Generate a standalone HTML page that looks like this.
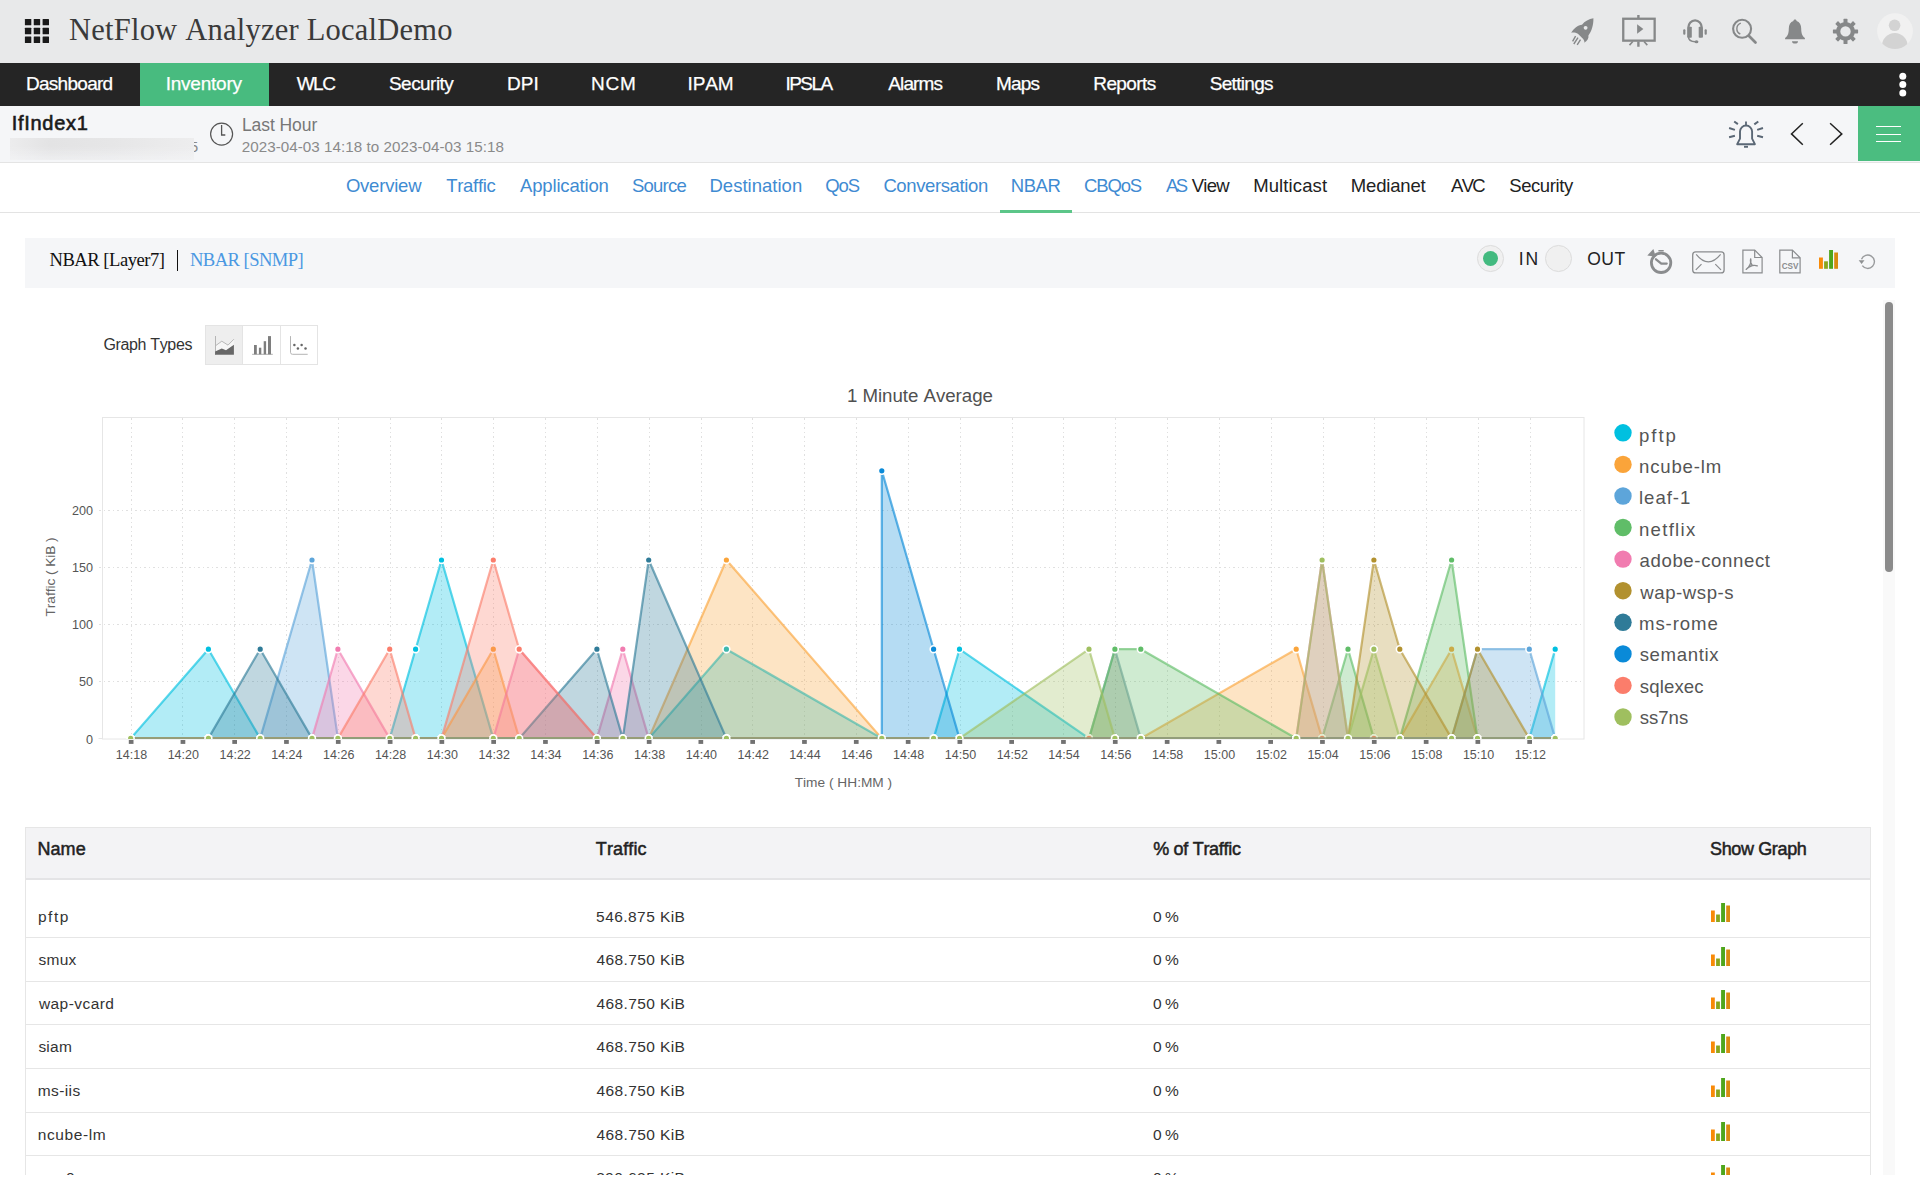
<!DOCTYPE html>
<html lang="en"><head><meta charset="utf-8"><title>NetFlow Analyzer</title>
<style>
html,body{margin:0;padding:0;background:#fff;width:1920px;height:1200px;overflow:hidden;font-family:"Liberation Sans",sans-serif}
body{position:relative;font-family:"Liberation Sans",sans-serif;font-kerning:none}
.abs{position:absolute;display:block}
.t{position:absolute;white-space:pre;font-kerning:none;display:block}
</style></head>
<body>
<div class="abs" style="left:0;top:0;width:1920px;height:63px;background:#e8e9ea"></div><svg class="abs" style="left:0;top:0" width="60" height="63" fill="#1a1a1a"><rect x="24.90" y="18.90" width="6.400" height="6.400" rx="0.500"/><rect x="33.75" y="18.90" width="6.400" height="6.400" rx="0.500"/><rect x="42.60" y="18.90" width="6.400" height="6.400" rx="0.500"/><rect x="24.90" y="27.75" width="6.400" height="6.400" rx="0.500"/><rect x="33.75" y="27.75" width="6.400" height="6.400" rx="0.500"/><rect x="42.60" y="27.75" width="6.400" height="6.400" rx="0.500"/><rect x="24.90" y="36.60" width="6.400" height="6.400" rx="0.500"/><rect x="33.75" y="36.60" width="6.400" height="6.400" rx="0.500"/><rect x="42.60" y="36.60" width="6.400" height="6.400" rx="0.500"/></svg><span class="t" style="left:69.02px;top:13px;font:400 30.50px/34px 'Liberation Serif',serif;font-kerning:none;letter-spacing:0.228px;color:#3a3a3a;">NetFlow Analyzer LocalDemo</span>
<div class="abs" style="left:0;top:63px;width:1920px;height:43px;background:#252525"></div><div class="abs" style="left:140px;top:63px;width:129px;height:43px;background:#48bb7f"></div><span class="t" style="left:26.00px;top:73px;font:400 19.00px/21px 'Liberation Sans',sans-serif;font-kerning:none;letter-spacing:-0.723px;color:#fff;-webkit-text-stroke:0.250px #fff;">Dashboard</span>
<span class="t" style="left:165.70px;top:73px;font:400 19.00px/21px 'Liberation Sans',sans-serif;font-kerning:none;letter-spacing:-0.232px;color:#fff;-webkit-text-stroke:0.250px #fff;">Inventory</span>
<span class="t" style="left:296.70px;top:73px;font:400 19.00px/21px 'Liberation Sans',sans-serif;font-kerning:none;letter-spacing:-1.500px;color:#fff;-webkit-text-stroke:0.250px #fff;">WLC</span>
<span class="t" style="left:389.00px;top:73px;font:400 19.00px/21px 'Liberation Sans',sans-serif;font-kerning:none;letter-spacing:-0.548px;color:#fff;-webkit-text-stroke:0.250px #fff;">Security</span>
<span class="t" style="left:506.90px;top:73px;font:400 19.00px/21px 'Liberation Sans',sans-serif;font-kerning:none;letter-spacing:0.053px;color:#fff;-webkit-text-stroke:0.250px #fff;">DPI</span>
<span class="t" style="left:591.10px;top:73px;font:400 19.00px/21px 'Liberation Sans',sans-serif;font-kerning:none;letter-spacing:0.679px;color:#fff;-webkit-text-stroke:0.250px #fff;">NCM</span>
<span class="t" style="left:687.50px;top:73px;font:400 19.00px/21px 'Liberation Sans',sans-serif;font-kerning:none;letter-spacing:-0.108px;color:#fff;-webkit-text-stroke:0.250px #fff;">IPAM</span>
<span class="t" style="left:785.40px;top:73px;font:400 19.00px/21px 'Liberation Sans',sans-serif;font-kerning:none;letter-spacing:-1.523px;color:#fff;-webkit-text-stroke:0.250px #fff;">IPSLA</span>
<span class="t" style="left:888.20px;top:73px;font:400 19.00px/21px 'Liberation Sans',sans-serif;font-kerning:none;letter-spacing:-0.843px;color:#fff;-webkit-text-stroke:0.250px #fff;">Alarms</span>
<span class="t" style="left:996.00px;top:73px;font:400 19.00px/21px 'Liberation Sans',sans-serif;font-kerning:none;letter-spacing:-0.820px;color:#fff;-webkit-text-stroke:0.250px #fff;">Maps</span>
<span class="t" style="left:1093.30px;top:73px;font:400 19.00px/21px 'Liberation Sans',sans-serif;font-kerning:none;letter-spacing:-0.605px;color:#fff;-webkit-text-stroke:0.250px #fff;">Reports</span>
<span class="t" style="left:1209.80px;top:73px;font:400 19.00px/21px 'Liberation Sans',sans-serif;font-kerning:none;letter-spacing:-0.707px;color:#fff;-webkit-text-stroke:0.250px #fff;">Settings</span>
<svg class="abs" style="left:1890px;top:63px" width="30" height="43" fill="#fff"><circle cx="12.8" cy="13.2" r="3.5"/><circle cx="12.8" cy="21.5" r="3.5"/><circle cx="12.8" cy="30" r="3.5"/></svg><div class="abs" style="left:0;top:106px;width:1920px;height:56px;background:#f5f6f8;border-bottom:1px solid #e4e4e4"></div><span class="t" style="left:11.70px;top:112px;font:400 20.00px/22px 'Liberation Sans',sans-serif;font-kerning:none;letter-spacing:0.723px;color:#1a1a1a;-webkit-text-stroke:0.600px #1a1a1a;">IfIndex1</span>
<span class="t" style="left:189.70px;top:138px;font:400 15.20px/17px 'Liberation Sans',sans-serif;font-kerning:none;letter-spacing:0.000px;color:#8a8a8a;">5</span>
<div class="abs" style="left:10.300px;top:137.600px;width:184px;height:22.400px;background:linear-gradient(180deg,rgba(245,246,248,0) 40%,rgba(245,246,248,.6) 100%),linear-gradient(90deg,#ececed 0%,#e3e3e4 22%,#e6e6e7 55%,#ededee 100%)"></div><svg class="abs" style="left:205px;top:117px" width="32" height="32" fill="none" stroke="#555" stroke-width="1.2"><circle cx="16.600" cy="17.100" r="11"/><path d="M16.600 7.900v10.100h3.700" stroke-width="1.300"/></svg><span class="t" style="left:241.90px;top:115px;font:400 17.50px/20px 'Liberation Sans',sans-serif;font-kerning:none;letter-spacing:-0.068px;color:#777;">Last Hour</span>
<span class="t" style="left:241.80px;top:138px;font:400 15.20px/17px 'Liberation Sans',sans-serif;font-kerning:none;letter-spacing:0.034px;color:#8a8a8a;">2023-04-03 14:18 to 2023-04-03 15:18</span>
<div class="abs" style="left:1858px;top:106px;width:62px;height:55px;background:#4bbd80"></div><svg class="abs" style="left:1858px;top:106px" width="62" height="55" stroke="#fff" stroke-width="1" shape-rendering="crispEdges"><path d="M18 20.500h25M18 28.500h25M18 35.500h25"/></svg><svg class="abs" style="left:1780px;top:110px" width="75" height="48" fill="none" stroke="#222" stroke-width="1.5"><path d="M22.8 13.3L11.5 23.9 22.8 34.7"/><path d="M50.1 13.3L61.8 23.9 50.1 34.7"/></svg><svg class="abs" style="left:1725px;top:116px" width="44" height="36" fill="none" stroke="#5a6775" stroke-width="1.9"><path d="M12.2 28.2L15 22.600V15.600a6.050 6.050 0 0 1 12.100 0V22.600L29.900 28.200Z" stroke-linejoin="round"/><path d="M21 5.500v3.600" stroke-width="1.800"/><path d="M19 30.800h4" stroke-width="1.900"/><path stroke-width="2" d="M9.200 5.500l3.700 2.600M4.100 12l5.800 1.900M4.100 21.200l5.800-1.500M33.300 5.500l-4 2.900M38 12l-5.800 1.900M38 21.200l-5.800-1.500"/></svg>
<svg class="abs" style="left:1560px;top:0" width="360" height="63" viewBox="1560 0 360 63"><path fill="#868889" fill-rule="evenodd" d="M1593.4 18.3C1589 18.9 1584.6 21.4 1582 24.7C1578 25.2 1573.6 28.3 1571.2 32.7C1573.6 32.2 1576 32.7 1577.9 33.8L1583.2 39.1C1584.3 41 1584.7 42.1 1584.2 42.8C1587.2 41 1589 38 1588.4 35.4C1591.6 31.4 1593.6 25 1593.400 18.300ZM1585.6 25.9a1.9 1.9 0 1 0 .01 0Z"/><path stroke="#868889" stroke-width="1.4" fill="none" d="M1575.6 36.2l-3 5.2M1578 37.6l-4.200 6.400M1580.500 39.600l-3.300 5.200"/><rect x="1623.25" y="18.75" width="31.4" height="21.9" fill="none" stroke="#868889" stroke-width="2.3"/><path stroke="#868889" stroke-width="2.4" fill="none" d="M1638.4 15.1v3M1638.4 41.500v5.300"/><path stroke="#868889" stroke-width="1.6" fill="none" d="M1632.800 41.500l-3.300 3.600M1644 41.500l3.300 3.600"/><path fill="#868889" d="M1637.100 24.200v9.600l6.300-4.800z"/><path fill="none" stroke="#868889" stroke-width="2.3" d="M1688.3 37.500v-9.800a6.750 7.300 0 0 1 13.500 0v9.800"/><rect x="1688.700" y="26.700" width="3.100" height="11" rx="0.800" fill="#868889"/><rect x="1698.700" y="26.700" width="3.100" height="11" rx="0.800" fill="#868889"/><rect x="1683.200" y="29.200" width="2.200" height="5.600" rx="1" fill="#868889"/><rect x="1704.600" y="29.200" width="2.200" height="5.600" rx="1" fill="#868889"/><path fill="none" stroke="#868889" stroke-width="1.5" d="M1688.400 36.500c0 3.500 2.500 5.200 7 5.200"/><ellipse cx="1696.500" cy="41.700" rx="1.900" ry="1.500" fill="#868889"/><circle cx="1742.1" cy="28.8" r="9" fill="none" stroke="#868889" stroke-width="2.1"/><path stroke="#868889" stroke-width="2.700" stroke-linecap="round" d="M1748.800 35.800l6.700 6.700"/><path fill="none" stroke="#868889" stroke-width="1.400" d="M1740.800 23.200a5.800 5.800 0 0 0 -.5 10.800"/><path fill="#868889" d="M1795 19.400c-1 0-1.600.7-1.600 1.600c-3 1-4.600 4-4.600 7.500c0 5-1.200 7.500-3.700 9.500v1.300h19.800v-1.300c-2.500-2-3.700-4.500-3.700-9.500c0-3.500-1.600-6.500-4.600-7.500c0-.9-.6-1.600-1.600-1.600z"/><path fill="#868889" d="M1792 41.200h6a3 2.300 0 0 1-6 0z"/><g fill="#868889"><rect x="1843.50" y="18.80" width="4" height="5" rx="0.6" transform="rotate(0 1845.50 31.40)"/><rect x="1843.50" y="18.80" width="4" height="5" rx="0.6" transform="rotate(45 1845.50 31.40)"/><rect x="1843.50" y="18.80" width="4" height="5" rx="0.6" transform="rotate(90 1845.50 31.40)"/><rect x="1843.50" y="18.80" width="4" height="5" rx="0.6" transform="rotate(135 1845.50 31.40)"/><rect x="1843.50" y="18.80" width="4" height="5" rx="0.6" transform="rotate(180 1845.50 31.40)"/><rect x="1843.50" y="18.80" width="4" height="5" rx="0.6" transform="rotate(225 1845.50 31.40)"/><rect x="1843.50" y="18.80" width="4" height="5" rx="0.6" transform="rotate(270 1845.50 31.40)"/><rect x="1843.50" y="18.80" width="4" height="5" rx="0.6" transform="rotate(315 1845.50 31.40)"/></g><circle cx="1845.5" cy="31.4" r="7.300" fill="none" stroke="#868889" stroke-width="4.200"/><defs><clipPath id="av"><circle cx="1895" cy="31.100" r="17.900"/></clipPath></defs><circle cx="1895" cy="31.100" r="17.900" fill="#f1f1f1"/><g clip-path="url(#av)" fill="#d3d3d3"><circle cx="1894.600" cy="25.300" r="5.800"/><ellipse cx="1894.800" cy="46" rx="12.800" ry="13"/></g></svg>
<div class="abs" style="left:0;top:212px;width:1920px;height:1px;background:#e3e3e3"></div><span class="t" style="left:345.90px;top:175px;font:400 18.50px/21px 'Liberation Sans',sans-serif;font-kerning:none;letter-spacing:-0.205px;color:#3f8bd2;">Overview</span>
<span class="t" style="left:446.30px;top:175px;font:400 18.50px/21px 'Liberation Sans',sans-serif;font-kerning:none;letter-spacing:-0.323px;color:#3f8bd2;">Traffic</span>
<span class="t" style="left:520.00px;top:175px;font:400 18.50px/21px 'Liberation Sans',sans-serif;font-kerning:none;letter-spacing:-0.161px;color:#3f8bd2;">Application</span>
<span class="t" style="left:631.90px;top:175px;font:400 18.50px/21px 'Liberation Sans',sans-serif;font-kerning:none;letter-spacing:-0.746px;color:#3f8bd2;">Source</span>
<span class="t" style="left:709.50px;top:175px;font:400 18.50px/21px 'Liberation Sans',sans-serif;font-kerning:none;letter-spacing:0.013px;color:#3f8bd2;">Destination</span>
<span class="t" style="left:825.20px;top:175px;font:400 18.50px/21px 'Liberation Sans',sans-serif;font-kerning:none;letter-spacing:-1.039px;color:#3f8bd2;">QoS</span>
<span class="t" style="left:883.40px;top:175px;font:400 18.50px/21px 'Liberation Sans',sans-serif;font-kerning:none;letter-spacing:-0.383px;color:#3f8bd2;">Conversation</span>
<span class="t" style="left:1010.80px;top:175px;font:400 18.50px/21px 'Liberation Sans',sans-serif;font-kerning:none;letter-spacing:-0.480px;color:#3f8bd2;">NBAR</span>
<span class="t" style="left:1084.10px;top:175px;font:400 18.50px/21px 'Liberation Sans',sans-serif;font-kerning:none;letter-spacing:-1.170px;color:#3f8bd2;">CBQoS</span>
<span class="t" style="left:1166.00px;top:175px;font:400 18.50px/21px 'Liberation Sans',sans-serif;font-kerning:none;letter-spacing:-2.539px;color:#3f8bd2;">AS</span>
<span class="t" style="left:1191.70px;top:175px;font:400 18.50px/21px 'Liberation Sans',sans-serif;font-kerning:none;letter-spacing:-0.746px;color:#222;">View</span>
<span class="t" style="left:1253.20px;top:175px;font:400 18.50px/21px 'Liberation Sans',sans-serif;font-kerning:none;letter-spacing:0.106px;color:#222;">Multicast</span>
<span class="t" style="left:1350.80px;top:175px;font:400 18.50px/21px 'Liberation Sans',sans-serif;font-kerning:none;letter-spacing:-0.166px;color:#222;">Medianet</span>
<span class="t" style="left:1451.00px;top:175px;font:400 18.50px/21px 'Liberation Sans',sans-serif;font-kerning:none;letter-spacing:-1.689px;color:#222;">AVC</span>
<span class="t" style="left:1509.20px;top:175px;font:400 18.50px/21px 'Liberation Sans',sans-serif;font-kerning:none;letter-spacing:-0.397px;color:#222;">Security</span>
<div class="abs" style="left:1000px;top:210px;width:72px;height:3px;background:#5cc689"></div><div class="abs" style="left:25px;top:238px;width:1870px;height:49.500px;background:#f5f6f8"></div><span class="t" style="left:49.50px;top:249px;font:400 18.60px/21px 'Liberation Serif',serif;font-kerning:none;letter-spacing:-0.491px;color:#111;">NBAR [Layer7]</span>
<div class="abs" style="left:176.600px;top:250px;width:1.500px;height:21px;background:#111"></div><span class="t" style="left:190.00px;top:249px;font:400 18.60px/21px 'Liberation Serif',serif;font-kerning:none;letter-spacing:-0.558px;color:#4a98e2;">NBAR [SNMP]</span>
<div class="abs" style="left:1477.100px;top:245.100px;width:24.800px;height:24.800px;border-radius:50%;background:#f0f0f0;border:1px solid #dcdcdc;box-sizing:content-box"></div><div class="abs" style="left:1483px;top:251px;width:15px;height:15px;border-radius:50%;background:#43ba7f"></div><span class="t" style="left:1518.70px;top:249px;font:400 17.50px/20px 'Liberation Sans',sans-serif;font-kerning:none;letter-spacing:2.038px;color:#222;">IN</span>
<div class="abs" style="left:1545.100px;top:245px;width:24.800px;height:24.800px;border-radius:50%;background:#f0f0f0;border:1px solid #dcdcdc;box-sizing:content-box"></div><span class="t" style="left:1587.30px;top:249px;font:400 17.50px/20px 'Liberation Sans',sans-serif;font-kerning:none;letter-spacing:0.425px;color:#222;">OUT</span>
<svg class="abs" style="left:1640px;top:238px" width="250" height="50" viewBox="1640 238 250 50" fill="none"><circle cx="1661.1" cy="262.8" r="9.700" stroke="#8a8c8e" stroke-width="2.800"/><path d="M1658.400 250h5.300v1.600h-5.300zM1660 251v2.500h2.200v-2.500z" fill="#8a8c8e"/><path d="M1647.300 255.400L1653.400 248.900L1655.800 256.800Z" fill="#8a8c8e"/><path d="M1656 259.300l5.300 4.300h5.400" stroke="#8a8c8e" stroke-width="2.300" stroke-linecap="round" stroke-linejoin="round"/><rect x="1692.700" y="251.900" width="31.400" height="21" rx="3" stroke="#8a8c8e" stroke-width="1.300"/><path d="M1696.200 254.400Q1708.300 269.500 1720.600 254.400M1701.500 264.100l-5.700 5.800M1715.300 264.100l5.700 5.800" stroke="#8a8c8e" stroke-width="1.200"/><path d="M1742.900 250.100h11.800l7.400 7.400v15.400h-19.200z" stroke="#8a8c8e" stroke-width="1.200"/><path d="M1754.700 250.100v7.400h7.400" stroke="#8a8c8e" stroke-width="1.200"/><path d="M1750.700 258.800c-.8 2.800 .2 5 1.600 6.700c1.800-.3 3.600-.3 5 .4M1752.300 265.500c-2.200 .6-4.500 1.800-6.100 3.900M1750.700 258.800c.9 2.800-.5 7.400-4.500 10.600" stroke="#8a8c8e" stroke-width="1.300" stroke-linecap="round"/><path d="M1779.800 250.100h12.600l7.700 7.700v15.100h-20.300z" stroke="#8a8c8e" stroke-width="1.200"/><path d="M1792.400 250.100v7.700h7.700" stroke="#8a8c8e" stroke-width="1.200"/><text x="1790.100" y="269" font-family="'Liberation Sans',sans-serif" font-weight="700" font-size="8.300" text-anchor="middle" fill="#8a8c8e" textLength="16.800" lengthAdjust="spacingAndGlyphs">CSV</text><defs><linearGradient id="bg1" x1="0" x2="1" y1="0" y2="0"><stop offset="0" stop-color="#ff8a00"/><stop offset=".35" stop-color="#9aa81a"/><stop offset=".7" stop-color="#4aa61c"/><stop offset="1" stop-color="#e8890c"/></linearGradient></defs><rect x="1819" y="257.500" width="3.900" height="11.300" fill="#f88a08"/><rect x="1824.100" y="261.300" width="3.800" height="7.500" fill="#8aa51c"/><rect x="1829.100" y="250" width="3.900" height="18.800" fill="#4fa61c"/><rect x="1834.200" y="252.500" width="3.800" height="16.300" fill="#d98b10"/><path d="M1862.300 265.700a6.700 6.700 0 1 0 -.8-6.500" stroke="#999b9d" stroke-width="1.400"/><path d="M1858.700 260.300h5.800l-2.900 3.700z" fill="#8e9092"/></svg><span class="t" style="left:103.40px;top:336px;font:400 16.00px/17px 'Liberation Sans',sans-serif;font-kerning:none;letter-spacing:-0.338px;color:#333;">Graph Types</span>
<div class="abs" style="left:205px;top:325px;width:111px;height:38px;border:1px solid #e4e4e4;background:#fff"></div><div class="abs" style="left:206px;top:326px;width:36.500px;height:38px;background:#eeeeee"></div><div class="abs" style="left:242px;top:326px;width:1px;height:38px;background:#e4e4e4"></div><div class="abs" style="left:280px;top:326px;width:1px;height:38px;background:#e4e4e4"></div><svg class="abs" style="left:205px;top:325px" width="114" height="40" viewBox="205 325 114 40" fill="none"><path d="M215.500 336v18.800" stroke="#b5b5b5" stroke-width="1"/><path d="M216 354.800v-9.400l5.800-4.200 6.200 3.900 5.900-5.900v15.600z" fill="#f6f6f6"/><path d="M216 345.400l5.800-4.200 6.200 3.900 5.900-5.900" stroke="#b8b8b8" stroke-width="1"/><path d="M215.100 354.800v-3.200l6.700-3 4.200 1.700 7.900-5.600v10.100z" fill="#676767"/><path d="M252.100 354.300h20.700" stroke="#b0b0b0" stroke-width="1"/><rect x="254.0" y="345.0" width="2.8" height="9.3" fill="#7e7e7e"/><rect x="258.9" y="347.7" width="2.4" height="6.6" fill="#7e7e7e"/><rect x="263.7" y="341.2" width="2.4" height="13.1" fill="#7e7e7e"/><rect x="268.0" y="336.1" width="3.0" height="18.2" fill="#7e7e7e"/><path d="M290.500 336.100v16.200q0 2 2 2h15.200" stroke="#b5b5b5" stroke-width="1"/><circle cx="294.4" cy="344.9" r="1.250" fill="#666"/><circle cx="297.9" cy="348.6" r="1.250" fill="#666"/><circle cx="301.6" cy="344.9" r="1.250" fill="#666"/><circle cx="305.5" cy="348.6" r="1.250" fill="#666"/></svg>
<svg class="abs" style="left:0;top:370px" width="1900" height="440" viewBox="0 370 1900 440"><rect x="102.500" y="417.500" width="1481.500" height="321.500" fill="#fff" stroke="#e6e6e6" stroke-width="1"/><path d="M131.5 418V738.500M182.5 418V738.500M234.5 418V738.500M286.5 418V738.500M338.5 418V738.500M390.5 418V738.500M441.5 418V738.500M493.5 418V738.500M545.5 418V738.500M597.5 418V738.500M649.5 418V738.500M701.5 418V738.500M752.5 418V738.500M804.5 418V738.500M856.5 418V738.500M908.5 418V738.500M960.5 418V738.500M1012.5 418V738.500M1063.5 418V738.500M1115.5 418V738.500M1167.5 418V738.500M1219.5 418V738.500M1271.5 418V738.500M1323.5 418V738.500M1374.5 418V738.500M1426.5 418V738.500M1478.5 418V738.500M1530.5 418V738.500M98.500 681.5H1584M98.500 624.5H1584M98.500 567.5H1584M98.500 510.5H1584" stroke="#e0e0e0" stroke-width="1" stroke-dasharray="2 3 1 3" fill="none" shape-rendering="crispEdges"/><path d="M98.500 738.500H103" stroke="#e6e6e6" stroke-width="1"/><defs><clipPath id="pc"><rect x="102" y="410" width="1483" height="329"/></clipPath></defs><g clip-path="url(#pc)"><path d="M130.7 738.4 L130.7 738.4 L208.4 649.2 L260.2 738.4 L312.0 738.4 L337.9 738.4 L389.7 738.4 L415.6 649.2 L441.5 560.0 L493.3 738.4 L519.2 738.4 L596.9 738.4 L622.8 738.4 L648.7 738.4 L726.4 738.4 L881.8 738.4 L933.6 738.4 L959.5 649.2 L1089.0 738.4 L1114.9 738.4 L1140.8 738.4 L1296.2 738.4 L1322.1 738.4 L1348.0 738.4 L1373.9 738.4 L1399.8 738.4 L1451.6 738.4 L1477.5 738.4 L1529.3 738.4 L1555.2 649.2 L1555.2 738.4Z" fill="#00c0e0" fill-opacity="0.3"/><path d="M130.7 738.4 L208.4 649.2 L260.2 738.4 L312.0 738.4 L337.9 738.4 L389.7 738.4 L415.6 649.2 L441.5 560.0 L493.3 738.4 L519.2 738.4 L596.9 738.4 L622.8 738.4 L648.7 738.4 L726.4 738.4 L881.8 738.4 L933.6 738.4 L959.5 649.2 L1089.0 738.4 L1114.9 738.4 L1140.8 738.4 L1296.2 738.4 L1322.1 738.4 L1348.0 738.4 L1373.9 738.4 L1399.8 738.4 L1451.6 738.4 L1477.5 738.4 L1529.3 738.4 L1555.2 649.2" fill="none" stroke="#00c0e0" stroke-opacity="0.640" stroke-width="2.200" stroke-linejoin="round"/><g fill="#00c0e0" stroke="#fff" stroke-width="1.600"><circle cx="130.7" cy="738.4" r="3.400"/><circle cx="208.4" cy="649.2" r="3.400"/><circle cx="260.2" cy="738.4" r="3.400"/><circle cx="312.0" cy="738.4" r="3.400"/><circle cx="337.9" cy="738.4" r="3.400"/><circle cx="389.7" cy="738.4" r="3.400"/><circle cx="415.6" cy="649.2" r="3.400"/><circle cx="441.5" cy="560.0" r="3.400"/><circle cx="493.3" cy="738.4" r="3.400"/><circle cx="519.2" cy="738.4" r="3.400"/><circle cx="596.9" cy="738.4" r="3.400"/><circle cx="622.8" cy="738.4" r="3.400"/><circle cx="648.7" cy="738.4" r="3.400"/><circle cx="726.4" cy="738.4" r="3.400"/><circle cx="881.8" cy="738.4" r="3.400"/><circle cx="933.6" cy="738.4" r="3.400"/><circle cx="959.5" cy="649.2" r="3.400"/><circle cx="1089.0" cy="738.4" r="3.400"/><circle cx="1114.9" cy="738.4" r="3.400"/><circle cx="1140.8" cy="738.4" r="3.400"/><circle cx="1296.2" cy="738.4" r="3.400"/><circle cx="1322.1" cy="738.4" r="3.400"/><circle cx="1348.0" cy="738.4" r="3.400"/><circle cx="1373.9" cy="738.4" r="3.400"/><circle cx="1399.8" cy="738.4" r="3.400"/><circle cx="1451.6" cy="738.4" r="3.400"/><circle cx="1477.5" cy="738.4" r="3.400"/><circle cx="1529.3" cy="738.4" r="3.400"/><circle cx="1555.2" cy="649.2" r="3.400"/></g><path d="M130.7 738.4 L130.7 738.4 L208.4 738.4 L260.2 738.4 L312.0 738.4 L337.9 738.4 L389.7 738.4 L415.6 738.4 L441.5 738.4 L493.3 649.2 L519.2 738.4 L596.9 738.4 L622.8 738.4 L648.7 738.4 L726.4 560.0 L881.8 738.4 L933.6 738.4 L959.5 738.4 L1089.0 738.4 L1114.9 738.4 L1140.8 738.4 L1296.2 649.2 L1322.1 738.4 L1348.0 738.4 L1373.9 738.4 L1399.8 738.4 L1451.6 649.2 L1477.5 738.4 L1529.3 738.4 L1555.2 738.4 L1555.2 738.4Z" fill="#faa43a" fill-opacity="0.3"/><path d="M130.7 738.4 L208.4 738.4 L260.2 738.4 L312.0 738.4 L337.9 738.4 L389.7 738.4 L415.6 738.4 L441.5 738.4 L493.3 649.2 L519.2 738.4 L596.9 738.4 L622.8 738.4 L648.7 738.4 L726.4 560.0 L881.8 738.4 L933.6 738.4 L959.5 738.4 L1089.0 738.4 L1114.9 738.4 L1140.8 738.4 L1296.2 649.2 L1322.1 738.4 L1348.0 738.4 L1373.9 738.4 L1399.8 738.4 L1451.6 649.2 L1477.5 738.4 L1529.3 738.4 L1555.2 738.4" fill="none" stroke="#faa43a" stroke-opacity="0.640" stroke-width="2.200" stroke-linejoin="round"/><g fill="#faa43a" stroke="#fff" stroke-width="1.600"><circle cx="130.7" cy="738.4" r="3.400"/><circle cx="208.4" cy="738.4" r="3.400"/><circle cx="260.2" cy="738.4" r="3.400"/><circle cx="312.0" cy="738.4" r="3.400"/><circle cx="337.9" cy="738.4" r="3.400"/><circle cx="389.7" cy="738.4" r="3.400"/><circle cx="415.6" cy="738.4" r="3.400"/><circle cx="441.5" cy="738.4" r="3.400"/><circle cx="493.3" cy="649.2" r="3.400"/><circle cx="519.2" cy="738.4" r="3.400"/><circle cx="596.9" cy="738.4" r="3.400"/><circle cx="622.8" cy="738.4" r="3.400"/><circle cx="648.7" cy="738.4" r="3.400"/><circle cx="726.4" cy="560.0" r="3.400"/><circle cx="881.8" cy="738.4" r="3.400"/><circle cx="933.6" cy="738.4" r="3.400"/><circle cx="959.5" cy="738.4" r="3.400"/><circle cx="1089.0" cy="738.4" r="3.400"/><circle cx="1114.9" cy="738.4" r="3.400"/><circle cx="1140.8" cy="738.4" r="3.400"/><circle cx="1296.2" cy="649.2" r="3.400"/><circle cx="1322.1" cy="738.4" r="3.400"/><circle cx="1348.0" cy="738.4" r="3.400"/><circle cx="1373.9" cy="738.4" r="3.400"/><circle cx="1399.8" cy="738.4" r="3.400"/><circle cx="1451.6" cy="649.2" r="3.400"/><circle cx="1477.5" cy="738.4" r="3.400"/><circle cx="1529.3" cy="738.4" r="3.400"/><circle cx="1555.2" cy="738.4" r="3.400"/></g><path d="M130.7 738.4 L130.7 738.4 L208.4 738.4 L260.2 738.4 L312.0 560.0 L337.9 738.4 L389.7 738.4 L415.6 738.4 L441.5 738.4 L493.3 738.4 L519.2 738.4 L596.9 738.4 L622.8 738.4 L648.7 738.4 L726.4 738.4 L881.8 738.4 L933.6 738.4 L959.5 738.4 L1089.0 738.4 L1114.9 738.4 L1140.8 738.4 L1296.2 738.4 L1322.1 738.4 L1348.0 738.4 L1373.9 738.4 L1399.8 738.4 L1451.6 738.4 L1477.5 649.2 L1529.3 649.2 L1555.2 738.4 L1555.2 738.4Z" fill="#5da5da" fill-opacity="0.3"/><path d="M130.7 738.4 L208.4 738.4 L260.2 738.4 L312.0 560.0 L337.9 738.4 L389.7 738.4 L415.6 738.4 L441.5 738.4 L493.3 738.4 L519.2 738.4 L596.9 738.4 L622.8 738.4 L648.7 738.4 L726.4 738.4 L881.8 738.4 L933.6 738.4 L959.5 738.4 L1089.0 738.4 L1114.9 738.4 L1140.8 738.4 L1296.2 738.4 L1322.1 738.4 L1348.0 738.4 L1373.9 738.4 L1399.8 738.4 L1451.6 738.4 L1477.5 649.2 L1529.3 649.2 L1555.2 738.4" fill="none" stroke="#5da5da" stroke-opacity="0.640" stroke-width="2.200" stroke-linejoin="round"/><g fill="#5da5da" stroke="#fff" stroke-width="1.600"><circle cx="130.7" cy="738.4" r="3.400"/><circle cx="208.4" cy="738.4" r="3.400"/><circle cx="260.2" cy="738.4" r="3.400"/><circle cx="312.0" cy="560.0" r="3.400"/><circle cx="337.9" cy="738.4" r="3.400"/><circle cx="389.7" cy="738.4" r="3.400"/><circle cx="415.6" cy="738.4" r="3.400"/><circle cx="441.5" cy="738.4" r="3.400"/><circle cx="493.3" cy="738.4" r="3.400"/><circle cx="519.2" cy="738.4" r="3.400"/><circle cx="596.9" cy="738.4" r="3.400"/><circle cx="622.8" cy="738.4" r="3.400"/><circle cx="648.7" cy="738.4" r="3.400"/><circle cx="726.4" cy="738.4" r="3.400"/><circle cx="881.8" cy="738.4" r="3.400"/><circle cx="933.6" cy="738.4" r="3.400"/><circle cx="959.5" cy="738.4" r="3.400"/><circle cx="1089.0" cy="738.4" r="3.400"/><circle cx="1114.9" cy="738.4" r="3.400"/><circle cx="1140.8" cy="738.4" r="3.400"/><circle cx="1296.2" cy="738.4" r="3.400"/><circle cx="1322.1" cy="738.4" r="3.400"/><circle cx="1348.0" cy="738.4" r="3.400"/><circle cx="1373.9" cy="738.4" r="3.400"/><circle cx="1399.8" cy="738.4" r="3.400"/><circle cx="1451.6" cy="738.4" r="3.400"/><circle cx="1477.5" cy="649.2" r="3.400"/><circle cx="1529.3" cy="649.2" r="3.400"/><circle cx="1555.2" cy="738.4" r="3.400"/></g><path d="M130.7 738.4 L130.7 738.4 L208.4 738.4 L260.2 738.4 L312.0 738.4 L337.9 738.4 L389.7 738.4 L415.6 738.4 L441.5 738.4 L493.3 738.4 L519.2 738.4 L596.9 738.4 L622.8 738.4 L648.7 738.4 L726.4 738.4 L881.8 738.4 L933.6 738.4 L959.5 738.4 L1089.0 738.4 L1114.9 649.2 L1140.8 738.4 L1296.2 738.4 L1322.1 738.4 L1348.0 738.4 L1373.9 738.4 L1399.8 738.4 L1451.6 738.4 L1477.5 738.4 L1529.3 738.4 L1555.2 738.4 L1555.2 738.4Z" fill="#606f5e" fill-opacity="0.3"/><path d="M130.7 738.4 L208.4 738.4 L260.2 738.4 L312.0 738.4 L337.9 738.4 L389.7 738.4 L415.6 738.4 L441.5 738.4 L493.3 738.4 L519.2 738.4 L596.9 738.4 L622.8 738.4 L648.7 738.4 L726.4 738.4 L881.8 738.4 L933.6 738.4 L959.5 738.4 L1089.0 738.4 L1114.9 649.2 L1140.8 738.4 L1296.2 738.4 L1322.1 738.4 L1348.0 738.4 L1373.9 738.4 L1399.8 738.4 L1451.6 738.4 L1477.5 738.4 L1529.3 738.4 L1555.2 738.4" fill="none" stroke="#759da8" stroke-opacity="0.640" stroke-width="2.200" stroke-linejoin="round"/><g fill="#606f5e" stroke="#fff" stroke-width="1.600"><circle cx="130.7" cy="738.4" r="3.400"/><circle cx="208.4" cy="738.4" r="3.400"/><circle cx="260.2" cy="738.4" r="3.400"/><circle cx="312.0" cy="738.4" r="3.400"/><circle cx="337.9" cy="738.4" r="3.400"/><circle cx="389.7" cy="738.4" r="3.400"/><circle cx="415.6" cy="738.4" r="3.400"/><circle cx="441.5" cy="738.4" r="3.400"/><circle cx="493.3" cy="738.4" r="3.400"/><circle cx="519.2" cy="738.4" r="3.400"/><circle cx="596.9" cy="738.4" r="3.400"/><circle cx="622.8" cy="738.4" r="3.400"/><circle cx="648.7" cy="738.4" r="3.400"/><circle cx="726.4" cy="738.4" r="3.400"/><circle cx="881.8" cy="738.4" r="3.400"/><circle cx="933.6" cy="738.4" r="3.400"/><circle cx="959.5" cy="738.4" r="3.400"/><circle cx="1089.0" cy="738.4" r="3.400"/><circle cx="1114.9" cy="649.2" r="3.400"/><circle cx="1140.8" cy="738.4" r="3.400"/><circle cx="1296.2" cy="738.4" r="3.400"/><circle cx="1322.1" cy="738.4" r="3.400"/><circle cx="1348.0" cy="738.4" r="3.400"/><circle cx="1373.9" cy="738.4" r="3.400"/><circle cx="1399.8" cy="738.4" r="3.400"/><circle cx="1451.6" cy="738.4" r="3.400"/><circle cx="1477.5" cy="738.4" r="3.400"/><circle cx="1529.3" cy="738.4" r="3.400"/><circle cx="1555.2" cy="738.4" r="3.400"/></g><path d="M130.7 738.4 L130.7 738.4 L208.4 738.4 L260.2 738.4 L312.0 738.4 L337.9 738.4 L389.7 738.4 L415.6 738.4 L441.5 738.4 L493.3 738.4 L519.2 738.4 L596.9 738.4 L622.8 738.4 L648.7 738.4 L726.4 649.2 L881.8 738.4 L933.6 738.4 L959.5 738.4 L1089.0 738.4 L1114.9 738.4 L1140.8 738.4 L1296.2 738.4 L1322.1 738.4 L1348.0 738.4 L1373.9 738.4 L1399.8 738.4 L1451.6 738.4 L1477.5 738.4 L1529.3 738.4 L1555.2 738.4 L1555.2 738.4Z" fill="#3fb8ad" fill-opacity="0.3"/><path d="M130.7 738.4 L208.4 738.4 L260.2 738.4 L312.0 738.4 L337.9 738.4 L389.7 738.4 L415.6 738.4 L441.5 738.4 L493.3 738.4 L519.2 738.4 L596.9 738.4 L622.8 738.4 L648.7 738.4 L726.4 649.2 L881.8 738.4 L933.6 738.4 L959.5 738.4 L1089.0 738.4 L1114.9 738.4 L1140.8 738.4 L1296.2 738.4 L1322.1 738.4 L1348.0 738.4 L1373.9 738.4 L1399.8 738.4 L1451.6 738.4 L1477.5 738.4 L1529.3 738.4 L1555.2 738.4" fill="none" stroke="#3fb8ad" stroke-opacity="0.640" stroke-width="2.200" stroke-linejoin="round"/><g fill="#3fb8ad" stroke="#fff" stroke-width="1.600"><circle cx="130.7" cy="738.4" r="3.400"/><circle cx="208.4" cy="738.4" r="3.400"/><circle cx="260.2" cy="738.4" r="3.400"/><circle cx="312.0" cy="738.4" r="3.400"/><circle cx="337.9" cy="738.4" r="3.400"/><circle cx="389.7" cy="738.4" r="3.400"/><circle cx="415.6" cy="738.4" r="3.400"/><circle cx="441.5" cy="738.4" r="3.400"/><circle cx="493.3" cy="738.4" r="3.400"/><circle cx="519.2" cy="738.4" r="3.400"/><circle cx="596.9" cy="738.4" r="3.400"/><circle cx="622.8" cy="738.4" r="3.400"/><circle cx="648.7" cy="738.4" r="3.400"/><circle cx="726.4" cy="649.2" r="3.400"/><circle cx="881.8" cy="738.4" r="3.400"/><circle cx="933.6" cy="738.4" r="3.400"/><circle cx="959.5" cy="738.4" r="3.400"/><circle cx="1089.0" cy="738.4" r="3.400"/><circle cx="1114.9" cy="738.4" r="3.400"/><circle cx="1140.8" cy="738.4" r="3.400"/><circle cx="1296.2" cy="738.4" r="3.400"/><circle cx="1322.1" cy="738.4" r="3.400"/><circle cx="1348.0" cy="738.4" r="3.400"/><circle cx="1373.9" cy="738.4" r="3.400"/><circle cx="1399.8" cy="738.4" r="3.400"/><circle cx="1451.6" cy="738.4" r="3.400"/><circle cx="1477.5" cy="738.4" r="3.400"/><circle cx="1529.3" cy="738.4" r="3.400"/><circle cx="1555.2" cy="738.4" r="3.400"/></g><path d="M130.7 738.4 L130.7 738.4 L208.4 738.4 L260.2 738.4 L312.0 738.4 L337.9 738.4 L389.7 738.4 L415.6 738.4 L441.5 738.4 L493.3 738.4 L519.2 738.4 L596.9 738.4 L622.8 738.4 L648.7 738.4 L726.4 738.4 L881.8 738.4 L933.6 738.4 L959.5 738.4 L1089.0 738.4 L1114.9 649.2 L1140.8 649.2 L1296.2 738.4 L1322.1 738.4 L1348.0 649.2 L1373.9 738.4 L1399.8 738.4 L1451.6 560.0 L1477.5 738.4 L1529.3 738.4 L1555.2 738.4 L1555.2 738.4Z" fill="#60bd68" fill-opacity="0.3"/><path d="M130.7 738.4 L208.4 738.4 L260.2 738.4 L312.0 738.4 L337.9 738.4 L389.7 738.4 L415.6 738.4 L441.5 738.4 L493.3 738.4 L519.2 738.4 L596.9 738.4 L622.8 738.4 L648.7 738.4 L726.4 738.4 L881.8 738.4 L933.6 738.4 L959.5 738.4 L1089.0 738.4 L1114.9 649.2 L1140.8 649.2 L1296.2 738.4 L1322.1 738.4 L1348.0 649.2 L1373.9 738.4 L1399.8 738.4 L1451.6 560.0 L1477.5 738.4 L1529.3 738.4 L1555.2 738.4" fill="none" stroke="#60bd68" stroke-opacity="0.640" stroke-width="2.200" stroke-linejoin="round"/><g fill="#60bd68" stroke="#fff" stroke-width="1.600"><circle cx="130.7" cy="738.4" r="3.400"/><circle cx="208.4" cy="738.4" r="3.400"/><circle cx="260.2" cy="738.4" r="3.400"/><circle cx="312.0" cy="738.4" r="3.400"/><circle cx="337.9" cy="738.4" r="3.400"/><circle cx="389.7" cy="738.4" r="3.400"/><circle cx="415.6" cy="738.4" r="3.400"/><circle cx="441.5" cy="738.4" r="3.400"/><circle cx="493.3" cy="738.4" r="3.400"/><circle cx="519.2" cy="738.4" r="3.400"/><circle cx="596.9" cy="738.4" r="3.400"/><circle cx="622.8" cy="738.4" r="3.400"/><circle cx="648.7" cy="738.4" r="3.400"/><circle cx="726.4" cy="738.4" r="3.400"/><circle cx="881.8" cy="738.4" r="3.400"/><circle cx="933.6" cy="738.4" r="3.400"/><circle cx="959.5" cy="738.4" r="3.400"/><circle cx="1089.0" cy="738.4" r="3.400"/><circle cx="1114.9" cy="649.2" r="3.400"/><circle cx="1140.8" cy="649.2" r="3.400"/><circle cx="1296.2" cy="738.4" r="3.400"/><circle cx="1322.1" cy="738.4" r="3.400"/><circle cx="1348.0" cy="649.2" r="3.400"/><circle cx="1373.9" cy="738.4" r="3.400"/><circle cx="1399.8" cy="738.4" r="3.400"/><circle cx="1451.6" cy="560.0" r="3.400"/><circle cx="1477.5" cy="738.4" r="3.400"/><circle cx="1529.3" cy="738.4" r="3.400"/><circle cx="1555.2" cy="738.4" r="3.400"/></g><path d="M130.7 738.4 L130.7 738.4 L208.4 738.4 L260.2 738.4 L312.0 738.4 L337.9 649.2 L389.7 738.4 L415.6 738.4 L441.5 738.4 L493.3 738.4 L519.2 649.2 L596.9 738.4 L622.8 649.2 L648.7 738.4 L726.4 738.4 L881.8 738.4 L933.6 738.4 L959.5 738.4 L1089.0 738.4 L1114.9 738.4 L1140.8 738.4 L1296.2 738.4 L1322.1 560.0 L1348.0 738.4 L1373.9 738.4 L1399.8 738.4 L1451.6 738.4 L1477.5 738.4 L1529.3 738.4 L1555.2 738.4 L1555.2 738.4Z" fill="#f17cb0" fill-opacity="0.3"/><path d="M130.7 738.4 L208.4 738.4 L260.2 738.4 L312.0 738.4 L337.9 649.2 L389.7 738.4 L415.6 738.4 L441.5 738.4 L493.3 738.4 L519.2 649.2 L596.9 738.4 L622.8 649.2 L648.7 738.4 L726.4 738.4 L881.8 738.4 L933.6 738.4 L959.5 738.4 L1089.0 738.4 L1114.9 738.4 L1140.8 738.4 L1296.2 738.4 L1322.1 560.0 L1348.0 738.4 L1373.9 738.4 L1399.8 738.4 L1451.6 738.4 L1477.5 738.4 L1529.3 738.4 L1555.2 738.4" fill="none" stroke="#f17cb0" stroke-opacity="0.640" stroke-width="2.200" stroke-linejoin="round"/><g fill="#f17cb0" stroke="#fff" stroke-width="1.600"><circle cx="130.7" cy="738.4" r="3.400"/><circle cx="208.4" cy="738.4" r="3.400"/><circle cx="260.2" cy="738.4" r="3.400"/><circle cx="312.0" cy="738.4" r="3.400"/><circle cx="337.9" cy="649.2" r="3.400"/><circle cx="389.7" cy="738.4" r="3.400"/><circle cx="415.6" cy="738.4" r="3.400"/><circle cx="441.5" cy="738.4" r="3.400"/><circle cx="493.3" cy="738.4" r="3.400"/><circle cx="519.2" cy="649.2" r="3.400"/><circle cx="596.9" cy="738.4" r="3.400"/><circle cx="622.8" cy="649.2" r="3.400"/><circle cx="648.7" cy="738.4" r="3.400"/><circle cx="726.4" cy="738.4" r="3.400"/><circle cx="881.8" cy="738.4" r="3.400"/><circle cx="933.6" cy="738.4" r="3.400"/><circle cx="959.5" cy="738.4" r="3.400"/><circle cx="1089.0" cy="738.4" r="3.400"/><circle cx="1114.9" cy="738.4" r="3.400"/><circle cx="1140.8" cy="738.4" r="3.400"/><circle cx="1296.2" cy="738.4" r="3.400"/><circle cx="1322.1" cy="560.0" r="3.400"/><circle cx="1348.0" cy="738.4" r="3.400"/><circle cx="1373.9" cy="738.4" r="3.400"/><circle cx="1399.8" cy="738.4" r="3.400"/><circle cx="1451.6" cy="738.4" r="3.400"/><circle cx="1477.5" cy="738.4" r="3.400"/><circle cx="1529.3" cy="738.4" r="3.400"/><circle cx="1555.2" cy="738.4" r="3.400"/></g><path d="M130.7 738.4 L130.7 738.4 L208.4 738.4 L260.2 738.4 L312.0 738.4 L337.9 738.4 L389.7 738.4 L415.6 738.4 L441.5 738.4 L493.3 738.4 L519.2 738.4 L596.9 738.4 L622.8 738.4 L648.7 738.4 L726.4 738.4 L881.8 738.4 L933.6 738.4 L959.5 738.4 L1089.0 738.4 L1114.9 738.4 L1140.8 738.4 L1296.2 738.4 L1322.1 738.4 L1348.0 738.4 L1373.9 560.0 L1399.8 649.2 L1451.6 738.4 L1477.5 649.2 L1529.3 738.4 L1555.2 738.4 L1555.2 738.4Z" fill="#b2912f" fill-opacity="0.3"/><path d="M130.7 738.4 L208.4 738.4 L260.2 738.4 L312.0 738.4 L337.9 738.4 L389.7 738.4 L415.6 738.4 L441.5 738.4 L493.3 738.4 L519.2 738.4 L596.9 738.4 L622.8 738.4 L648.7 738.4 L726.4 738.4 L881.8 738.4 L933.6 738.4 L959.5 738.4 L1089.0 738.4 L1114.9 738.4 L1140.8 738.4 L1296.2 738.4 L1322.1 738.4 L1348.0 738.4 L1373.9 560.0 L1399.8 649.2 L1451.6 738.4 L1477.5 649.2 L1529.3 738.4 L1555.2 738.4" fill="none" stroke="#b2912f" stroke-opacity="0.640" stroke-width="2.200" stroke-linejoin="round"/><g fill="#b2912f" stroke="#fff" stroke-width="1.600"><circle cx="130.7" cy="738.4" r="3.400"/><circle cx="208.4" cy="738.4" r="3.400"/><circle cx="260.2" cy="738.4" r="3.400"/><circle cx="312.0" cy="738.4" r="3.400"/><circle cx="337.9" cy="738.4" r="3.400"/><circle cx="389.7" cy="738.4" r="3.400"/><circle cx="415.6" cy="738.4" r="3.400"/><circle cx="441.5" cy="738.4" r="3.400"/><circle cx="493.3" cy="738.4" r="3.400"/><circle cx="519.2" cy="738.4" r="3.400"/><circle cx="596.9" cy="738.4" r="3.400"/><circle cx="622.8" cy="738.4" r="3.400"/><circle cx="648.7" cy="738.4" r="3.400"/><circle cx="726.4" cy="738.4" r="3.400"/><circle cx="881.8" cy="738.4" r="3.400"/><circle cx="933.6" cy="738.4" r="3.400"/><circle cx="959.5" cy="738.4" r="3.400"/><circle cx="1089.0" cy="738.4" r="3.400"/><circle cx="1114.9" cy="738.4" r="3.400"/><circle cx="1140.8" cy="738.4" r="3.400"/><circle cx="1296.2" cy="738.4" r="3.400"/><circle cx="1322.1" cy="738.4" r="3.400"/><circle cx="1348.0" cy="738.4" r="3.400"/><circle cx="1373.9" cy="560.0" r="3.400"/><circle cx="1399.8" cy="649.2" r="3.400"/><circle cx="1451.6" cy="738.4" r="3.400"/><circle cx="1477.5" cy="649.2" r="3.400"/><circle cx="1529.3" cy="738.4" r="3.400"/><circle cx="1555.2" cy="738.4" r="3.400"/></g><path d="M130.7 738.4 L130.7 738.4 L208.4 738.4 L260.2 649.2 L312.0 738.4 L337.9 738.4 L389.7 738.4 L415.6 738.4 L441.5 738.4 L493.3 738.4 L519.2 738.4 L596.9 649.2 L622.8 738.4 L648.7 560.0 L726.4 738.4 L881.8 738.4 L933.6 738.4 L959.5 738.4 L1089.0 738.4 L1114.9 738.4 L1140.8 738.4 L1296.2 738.4 L1322.1 738.4 L1348.0 738.4 L1373.9 738.4 L1399.8 738.4 L1451.6 738.4 L1477.5 738.4 L1529.3 738.4 L1555.2 738.4 L1555.2 738.4Z" fill="#2f7b98" fill-opacity="0.3"/><path d="M130.7 738.4 L208.4 738.4 L260.2 649.2 L312.0 738.4 L337.9 738.4 L389.7 738.4 L415.6 738.4 L441.5 738.4 L493.3 738.4 L519.2 738.4 L596.9 649.2 L622.8 738.4 L648.7 560.0 L726.4 738.4 L881.8 738.4 L933.6 738.4 L959.5 738.4 L1089.0 738.4 L1114.9 738.4 L1140.8 738.4 L1296.2 738.4 L1322.1 738.4 L1348.0 738.4 L1373.9 738.4 L1399.8 738.4 L1451.6 738.4 L1477.5 738.4 L1529.3 738.4 L1555.2 738.4" fill="none" stroke="#2f7b98" stroke-opacity="0.640" stroke-width="2.200" stroke-linejoin="round"/><g fill="#2f7b98" stroke="#fff" stroke-width="1.600"><circle cx="130.7" cy="738.4" r="3.400"/><circle cx="208.4" cy="738.4" r="3.400"/><circle cx="260.2" cy="649.2" r="3.400"/><circle cx="312.0" cy="738.4" r="3.400"/><circle cx="337.9" cy="738.4" r="3.400"/><circle cx="389.7" cy="738.4" r="3.400"/><circle cx="415.6" cy="738.4" r="3.400"/><circle cx="441.5" cy="738.4" r="3.400"/><circle cx="493.3" cy="738.4" r="3.400"/><circle cx="519.2" cy="738.4" r="3.400"/><circle cx="596.9" cy="649.2" r="3.400"/><circle cx="622.8" cy="738.4" r="3.400"/><circle cx="648.7" cy="560.0" r="3.400"/><circle cx="726.4" cy="738.4" r="3.400"/><circle cx="881.8" cy="738.4" r="3.400"/><circle cx="933.6" cy="738.4" r="3.400"/><circle cx="959.5" cy="738.4" r="3.400"/><circle cx="1089.0" cy="738.4" r="3.400"/><circle cx="1114.9" cy="738.4" r="3.400"/><circle cx="1140.8" cy="738.4" r="3.400"/><circle cx="1296.2" cy="738.4" r="3.400"/><circle cx="1322.1" cy="738.4" r="3.400"/><circle cx="1348.0" cy="738.4" r="3.400"/><circle cx="1373.9" cy="738.4" r="3.400"/><circle cx="1399.8" cy="738.4" r="3.400"/><circle cx="1451.6" cy="738.4" r="3.400"/><circle cx="1477.5" cy="738.4" r="3.400"/><circle cx="1529.3" cy="738.4" r="3.400"/><circle cx="1555.2" cy="738.4" r="3.400"/></g><path d="M881.8 738.4 L881.8 470.8 L933.6 649.2 L959.5 738.4 L1089.0 738.4 L1114.9 738.4 L1140.8 738.4 L1296.2 738.4 L1322.1 738.4 L1348.0 738.4 L1373.9 738.4 L1399.8 738.4 L1451.6 738.4 L1477.5 738.4 L1529.3 738.4 L1555.2 738.4 L1555.2 738.4Z" fill="#0a8ad8" fill-opacity="0.3"/><path d="M881.8 738.4 L881.8 470.8 L933.6 649.2 L959.5 738.4 L1089.0 738.4 L1114.9 738.4 L1140.8 738.4 L1296.2 738.4 L1322.1 738.4 L1348.0 738.4 L1373.9 738.4 L1399.8 738.4 L1451.6 738.4 L1477.5 738.4 L1529.3 738.4 L1555.2 738.4" fill="none" stroke="#0a8ad8" stroke-opacity="0.640" stroke-width="2.200" stroke-linejoin="round"/><g fill="#0a8ad8" stroke="#fff" stroke-width="1.600"><circle cx="881.8" cy="470.8" r="3.400"/><circle cx="933.6" cy="649.2" r="3.400"/><circle cx="959.5" cy="738.4" r="3.400"/><circle cx="1089.0" cy="738.4" r="3.400"/><circle cx="1114.9" cy="738.4" r="3.400"/><circle cx="1140.8" cy="738.4" r="3.400"/><circle cx="1296.2" cy="738.4" r="3.400"/><circle cx="1322.1" cy="738.4" r="3.400"/><circle cx="1348.0" cy="738.4" r="3.400"/><circle cx="1373.9" cy="738.4" r="3.400"/><circle cx="1399.8" cy="738.4" r="3.400"/><circle cx="1451.6" cy="738.4" r="3.400"/><circle cx="1477.5" cy="738.4" r="3.400"/><circle cx="1529.3" cy="738.4" r="3.400"/><circle cx="1555.2" cy="738.4" r="3.400"/></g><path d="M130.7 738.4 L130.7 738.4 L208.4 738.4 L260.2 738.4 L312.0 738.4 L337.9 738.4 L389.7 649.2 L415.6 738.4 L441.5 738.4 L493.3 560.0 L519.2 649.2 L596.9 738.4 L622.8 738.4 L648.7 738.4 L726.4 738.4 L881.8 738.4 L933.6 738.4 L959.5 738.4 L1089.0 738.4 L1114.9 738.4 L1140.8 738.4 L1296.2 738.4 L1322.1 738.4 L1348.0 738.4 L1373.9 738.4 L1399.8 738.4 L1451.6 738.4 L1477.5 738.4 L1529.3 738.4 L1555.2 738.4 L1555.2 738.4Z" fill="#fb7d6b" fill-opacity="0.3"/><path d="M130.7 738.4 L208.4 738.4 L260.2 738.4 L312.0 738.4 L337.9 738.4 L389.7 649.2 L415.6 738.4 L441.5 738.4 L493.3 560.0 L519.2 649.2 L596.9 738.4 L622.8 738.4 L648.7 738.4 L726.4 738.4 L881.8 738.4 L933.6 738.4 L959.5 738.4 L1089.0 738.4 L1114.9 738.4 L1140.8 738.4 L1296.2 738.4 L1322.1 738.4 L1348.0 738.4 L1373.9 738.4 L1399.8 738.4 L1451.6 738.4 L1477.5 738.4 L1529.3 738.4 L1555.2 738.4" fill="none" stroke="#fb7d6b" stroke-opacity="0.640" stroke-width="2.200" stroke-linejoin="round"/><g fill="#fb7d6b" stroke="#fff" stroke-width="1.600"><circle cx="130.7" cy="738.4" r="3.400"/><circle cx="208.4" cy="738.4" r="3.400"/><circle cx="260.2" cy="738.4" r="3.400"/><circle cx="312.0" cy="738.4" r="3.400"/><circle cx="337.9" cy="738.4" r="3.400"/><circle cx="389.7" cy="649.2" r="3.400"/><circle cx="415.6" cy="738.4" r="3.400"/><circle cx="441.5" cy="738.4" r="3.400"/><circle cx="493.3" cy="560.0" r="3.400"/><circle cx="519.2" cy="649.2" r="3.400"/><circle cx="596.9" cy="738.4" r="3.400"/><circle cx="622.8" cy="738.4" r="3.400"/><circle cx="648.7" cy="738.4" r="3.400"/><circle cx="726.4" cy="738.4" r="3.400"/><circle cx="881.8" cy="738.4" r="3.400"/><circle cx="933.6" cy="738.4" r="3.400"/><circle cx="959.5" cy="738.4" r="3.400"/><circle cx="1089.0" cy="738.4" r="3.400"/><circle cx="1114.9" cy="738.4" r="3.400"/><circle cx="1140.8" cy="738.4" r="3.400"/><circle cx="1296.2" cy="738.4" r="3.400"/><circle cx="1322.1" cy="738.4" r="3.400"/><circle cx="1348.0" cy="738.4" r="3.400"/><circle cx="1373.9" cy="738.4" r="3.400"/><circle cx="1399.8" cy="738.4" r="3.400"/><circle cx="1451.6" cy="738.4" r="3.400"/><circle cx="1477.5" cy="738.4" r="3.400"/><circle cx="1529.3" cy="738.4" r="3.400"/><circle cx="1555.2" cy="738.4" r="3.400"/></g><path d="M130.7 738.4 L130.7 738.4 L208.4 738.4 L260.2 738.4 L312.0 738.4 L337.9 738.4 L389.7 738.4 L415.6 738.4 L441.5 738.4 L493.3 738.4 L519.2 738.4 L596.9 738.4 L622.8 738.4 L648.7 738.4 L726.4 738.4 L881.8 738.4 L933.6 738.4 L959.5 738.4 L1089.0 649.2 L1114.9 738.4 L1140.8 738.4 L1296.2 738.4 L1322.1 560.0 L1348.0 738.4 L1373.9 649.2 L1399.8 738.4 L1451.6 738.4 L1477.5 738.4 L1529.3 738.4 L1555.2 738.4 L1555.2 738.4Z" fill="#9fbf5f" fill-opacity="0.3"/><path d="M130.7 738.4 L208.4 738.4 L260.2 738.4 L312.0 738.4 L337.9 738.4 L389.7 738.4 L415.6 738.4 L441.5 738.4 L493.3 738.4 L519.2 738.4 L596.9 738.4 L622.8 738.4 L648.7 738.4 L726.4 738.4 L881.8 738.4 L933.6 738.4 L959.5 738.4 L1089.0 649.2 L1114.9 738.4 L1140.8 738.4 L1296.2 738.4 L1322.1 560.0 L1348.0 738.4 L1373.9 649.2 L1399.8 738.4 L1451.6 738.4 L1477.5 738.4 L1529.3 738.4 L1555.2 738.4" fill="none" stroke="#9fbf5f" stroke-opacity="0.640" stroke-width="2.200" stroke-linejoin="round"/><path d="M130.7 738.4H1555.2" stroke="#909b7c" stroke-width="2.200" stroke-opacity="0.900"/><g fill="#9fbf5f" stroke="#fff" stroke-width="1.600"><circle cx="130.7" cy="738.4" r="3.400"/><circle cx="208.4" cy="738.4" r="3.400"/><circle cx="260.2" cy="738.4" r="3.400"/><circle cx="312.0" cy="738.4" r="3.400"/><circle cx="337.9" cy="738.4" r="3.400"/><circle cx="389.7" cy="738.4" r="3.400"/><circle cx="415.6" cy="738.4" r="3.400"/><circle cx="441.5" cy="738.4" r="3.400"/><circle cx="493.3" cy="738.4" r="3.400"/><circle cx="519.2" cy="738.4" r="3.400"/><circle cx="596.9" cy="738.4" r="3.400"/><circle cx="622.8" cy="738.4" r="3.400"/><circle cx="648.7" cy="738.4" r="3.400"/><circle cx="726.4" cy="738.4" r="3.400"/><circle cx="881.8" cy="738.4" r="3.400"/><circle cx="933.6" cy="738.4" r="3.400"/><circle cx="959.5" cy="738.4" r="3.400"/><circle cx="1089.0" cy="649.2" r="3.400"/><circle cx="1114.9" cy="738.4" r="3.400"/><circle cx="1140.8" cy="738.4" r="3.400"/><circle cx="1296.2" cy="738.4" r="3.400"/><circle cx="1322.1" cy="560.0" r="3.400"/><circle cx="1348.0" cy="738.4" r="3.400"/><circle cx="1373.9" cy="649.2" r="3.400"/><circle cx="1399.8" cy="738.4" r="3.400"/><circle cx="1451.6" cy="738.4" r="3.400"/><circle cx="1477.5" cy="738.4" r="3.400"/><circle cx="1529.3" cy="738.4" r="3.400"/><circle cx="1555.2" cy="738.4" r="3.400"/></g></g><g fill="#727272"><rect x="128.8" y="740" width="4.700" height="3.900"/><rect x="180.6" y="740" width="4.700" height="3.900"/><rect x="232.3" y="740" width="4.700" height="3.900"/><rect x="284.1" y="740" width="4.700" height="3.900"/><rect x="335.9" y="740" width="4.700" height="3.900"/><rect x="387.8" y="740" width="4.700" height="3.900"/><rect x="439.5" y="740" width="4.700" height="3.900"/><rect x="491.3" y="740" width="4.700" height="3.900"/><rect x="543.1" y="740" width="4.700" height="3.900"/><rect x="594.9" y="740" width="4.700" height="3.900"/><rect x="646.8" y="740" width="4.700" height="3.900"/><rect x="698.5" y="740" width="4.700" height="3.900"/><rect x="750.3" y="740" width="4.700" height="3.900"/><rect x="802.1" y="740" width="4.700" height="3.900"/><rect x="853.9" y="740" width="4.700" height="3.900"/><rect x="905.8" y="740" width="4.700" height="3.900"/><rect x="957.5" y="740" width="4.700" height="3.900"/><rect x="1009.3" y="740" width="4.700" height="3.900"/><rect x="1061.1" y="740" width="4.700" height="3.900"/><rect x="1112.9" y="740" width="4.700" height="3.900"/><rect x="1164.8" y="740" width="4.700" height="3.900"/><rect x="1216.5" y="740" width="4.700" height="3.900"/><rect x="1268.3" y="740" width="4.700" height="3.900"/><rect x="1320.1" y="740" width="4.700" height="3.900"/><rect x="1371.9" y="740" width="4.700" height="3.900"/><rect x="1423.8" y="740" width="4.700" height="3.900"/><rect x="1475.5" y="740" width="4.700" height="3.900"/><rect x="1527.3" y="740" width="4.700" height="3.900"/></g></svg><span class="t" style="left:115.84px;top:748px;font:400 12.50px/14px 'Liberation Sans',sans-serif;font-kerning:none;letter-spacing:0.000px;color:#555;">14:18</span>
<span class="t" style="left:167.65px;top:748px;font:400 12.50px/14px 'Liberation Sans',sans-serif;font-kerning:none;letter-spacing:0.000px;color:#555;">14:20</span>
<span class="t" style="left:219.51px;top:748px;font:400 12.50px/14px 'Liberation Sans',sans-serif;font-kerning:none;letter-spacing:0.000px;color:#555;">14:22</span>
<span class="t" style="left:271.22px;top:748px;font:400 12.50px/14px 'Liberation Sans',sans-serif;font-kerning:none;letter-spacing:0.000px;color:#555;">14:24</span>
<span class="t" style="left:323.08px;top:748px;font:400 12.50px/14px 'Liberation Sans',sans-serif;font-kerning:none;letter-spacing:0.000px;color:#555;">14:26</span>
<span class="t" style="left:374.89px;top:748px;font:400 12.50px/14px 'Liberation Sans',sans-serif;font-kerning:none;letter-spacing:0.000px;color:#555;">14:28</span>
<span class="t" style="left:426.70px;top:748px;font:400 12.50px/14px 'Liberation Sans',sans-serif;font-kerning:none;letter-spacing:0.000px;color:#555;">14:30</span>
<span class="t" style="left:478.56px;top:748px;font:400 12.50px/14px 'Liberation Sans',sans-serif;font-kerning:none;letter-spacing:0.000px;color:#555;">14:32</span>
<span class="t" style="left:530.27px;top:748px;font:400 12.50px/14px 'Liberation Sans',sans-serif;font-kerning:none;letter-spacing:0.000px;color:#555;">14:34</span>
<span class="t" style="left:582.13px;top:748px;font:400 12.50px/14px 'Liberation Sans',sans-serif;font-kerning:none;letter-spacing:0.000px;color:#555;">14:36</span>
<span class="t" style="left:633.94px;top:748px;font:400 12.50px/14px 'Liberation Sans',sans-serif;font-kerning:none;letter-spacing:0.000px;color:#555;">14:38</span>
<span class="t" style="left:685.75px;top:748px;font:400 12.50px/14px 'Liberation Sans',sans-serif;font-kerning:none;letter-spacing:0.000px;color:#555;">14:40</span>
<span class="t" style="left:737.61px;top:748px;font:400 12.50px/14px 'Liberation Sans',sans-serif;font-kerning:none;letter-spacing:0.000px;color:#555;">14:42</span>
<span class="t" style="left:789.32px;top:748px;font:400 12.50px/14px 'Liberation Sans',sans-serif;font-kerning:none;letter-spacing:0.000px;color:#555;">14:44</span>
<span class="t" style="left:841.18px;top:748px;font:400 12.50px/14px 'Liberation Sans',sans-serif;font-kerning:none;letter-spacing:0.000px;color:#555;">14:46</span>
<span class="t" style="left:892.99px;top:748px;font:400 12.50px/14px 'Liberation Sans',sans-serif;font-kerning:none;letter-spacing:0.000px;color:#555;">14:48</span>
<span class="t" style="left:944.80px;top:748px;font:400 12.50px/14px 'Liberation Sans',sans-serif;font-kerning:none;letter-spacing:0.000px;color:#555;">14:50</span>
<span class="t" style="left:996.66px;top:748px;font:400 12.50px/14px 'Liberation Sans',sans-serif;font-kerning:none;letter-spacing:0.000px;color:#555;">14:52</span>
<span class="t" style="left:1048.37px;top:748px;font:400 12.50px/14px 'Liberation Sans',sans-serif;font-kerning:none;letter-spacing:0.000px;color:#555;">14:54</span>
<span class="t" style="left:1100.23px;top:748px;font:400 12.50px/14px 'Liberation Sans',sans-serif;font-kerning:none;letter-spacing:0.000px;color:#555;">14:56</span>
<span class="t" style="left:1152.04px;top:748px;font:400 12.50px/14px 'Liberation Sans',sans-serif;font-kerning:none;letter-spacing:0.000px;color:#555;">14:58</span>
<span class="t" style="left:1203.85px;top:748px;font:400 12.50px/14px 'Liberation Sans',sans-serif;font-kerning:none;letter-spacing:0.000px;color:#555;">15:00</span>
<span class="t" style="left:1255.71px;top:748px;font:400 12.50px/14px 'Liberation Sans',sans-serif;font-kerning:none;letter-spacing:0.000px;color:#555;">15:02</span>
<span class="t" style="left:1307.42px;top:748px;font:400 12.50px/14px 'Liberation Sans',sans-serif;font-kerning:none;letter-spacing:0.000px;color:#555;">15:04</span>
<span class="t" style="left:1359.28px;top:748px;font:400 12.50px/14px 'Liberation Sans',sans-serif;font-kerning:none;letter-spacing:0.000px;color:#555;">15:06</span>
<span class="t" style="left:1411.09px;top:748px;font:400 12.50px/14px 'Liberation Sans',sans-serif;font-kerning:none;letter-spacing:0.000px;color:#555;">15:08</span>
<span class="t" style="left:1462.90px;top:748px;font:400 12.50px/14px 'Liberation Sans',sans-serif;font-kerning:none;letter-spacing:0.000px;color:#555;">15:10</span>
<span class="t" style="left:1514.76px;top:748px;font:400 12.50px/14px 'Liberation Sans',sans-serif;font-kerning:none;letter-spacing:0.000px;color:#555;">15:12</span>
<span class="t" style="left:85.90px;top:733px;font:400 12.60px/14px 'Liberation Sans',sans-serif;font-kerning:none;letter-spacing:0.000px;color:#555;">0</span>
<span class="t" style="left:78.89px;top:675px;font:400 12.60px/14px 'Liberation Sans',sans-serif;font-kerning:none;letter-spacing:0.000px;color:#555;">50</span>
<span class="t" style="left:71.88px;top:618px;font:400 12.60px/14px 'Liberation Sans',sans-serif;font-kerning:none;letter-spacing:0.000px;color:#555;">100</span>
<span class="t" style="left:71.88px;top:561px;font:400 12.60px/14px 'Liberation Sans',sans-serif;font-kerning:none;letter-spacing:0.000px;color:#555;">150</span>
<span class="t" style="left:71.88px;top:504px;font:400 12.60px/14px 'Liberation Sans',sans-serif;font-kerning:none;letter-spacing:0.000px;color:#555;">200</span>
<span class="t" style="left:846.90px;top:385px;font:400 18.70px/21px 'Liberation Sans',sans-serif;font-kerning:none;letter-spacing:-0.031px;color:#505050;">1 Minute Average</span>
<span class="t" style="left:794.70px;top:775px;font:400 13.70px/15px 'Liberation Sans',sans-serif;font-kerning:none;letter-spacing:0.012px;color:#666;">Time ( HH:MM )</span>
<div class="abs" style="left:50.500px;top:577px;width:0;height:0"><span class="t" style="left:-39.500px;top:-8px;font:400 13.700px/normal 'Liberation Sans',sans-serif;font-kerning:none;letter-spacing:-0.050px;color:#666;transform:rotate(-90deg);transform-origin:39.500px 8px;width:79px;text-align:center">Traffic ( KiB )</span></div><svg class="abs" style="left:1610px;top:420px" width="30" height="320"><circle cx="13" cy="12.8" r="8.700" fill="#00c0e0"/><circle cx="13" cy="44.4" r="8.700" fill="#faa43a"/><circle cx="13" cy="76.0" r="8.700" fill="#5da5da"/><circle cx="13" cy="107.5" r="8.700" fill="#60bd68"/><circle cx="13" cy="139.1" r="8.700" fill="#f17cb0"/><circle cx="13" cy="170.7" r="8.700" fill="#b2912f"/><circle cx="13" cy="202.3" r="8.700" fill="#2f7b98"/><circle cx="13" cy="233.9" r="8.700" fill="#0a8ad8"/><circle cx="13" cy="265.4" r="8.700" fill="#fb7d6b"/><circle cx="13" cy="297.0" r="8.700" fill="#9fbf5f"/></svg><span class="t" style="left:1639.10px;top:425px;font:400 18.60px/21px 'Liberation Sans',sans-serif;font-kerning:none;letter-spacing:1.940px;color:#555;">pftp</span>
<span class="t" style="left:1639.00px;top:456px;font:400 18.60px/21px 'Liberation Sans',sans-serif;font-kerning:none;letter-spacing:0.814px;color:#555;">ncube-lm</span>
<span class="t" style="left:1639.00px;top:487px;font:400 18.60px/21px 'Liberation Sans',sans-serif;font-kerning:none;letter-spacing:0.963px;color:#555;">leaf-1</span>
<span class="t" style="left:1639.00px;top:519px;font:400 18.60px/21px 'Liberation Sans',sans-serif;font-kerning:none;letter-spacing:1.269px;color:#555;">netflix</span>
<span class="t" style="left:1639.50px;top:550px;font:400 18.60px/21px 'Liberation Sans',sans-serif;font-kerning:none;letter-spacing:0.626px;color:#555;">adobe-connect</span>
<span class="t" style="left:1640.30px;top:582px;font:400 18.60px/21px 'Liberation Sans',sans-serif;font-kerning:none;letter-spacing:0.552px;color:#555;">wap-wsp-s</span>
<span class="t" style="left:1639.00px;top:613px;font:400 18.60px/21px 'Liberation Sans',sans-serif;font-kerning:none;letter-spacing:0.897px;color:#555;">ms-rome</span>
<span class="t" style="left:1639.70px;top:644px;font:400 18.60px/21px 'Liberation Sans',sans-serif;font-kerning:none;letter-spacing:0.639px;color:#555;">semantix</span>
<span class="t" style="left:1639.70px;top:676px;font:400 18.60px/21px 'Liberation Sans',sans-serif;font-kerning:none;letter-spacing:0.156px;color:#555;">sqlexec</span>
<span class="t" style="left:1639.70px;top:707px;font:400 18.60px/21px 'Liberation Sans',sans-serif;font-kerning:none;letter-spacing:-0.022px;color:#555;">ss7ns</span>
<div class="abs" style="left:1883px;top:300px;width:12px;height:875px;background:#f9f9f9"></div><div class="abs" style="left:1885px;top:302px;width:8px;height:270px;border-radius:4px;background:#8b8b8b"></div>
<div class="abs" style="left:0;top:820px;width:1883px;height:355px;overflow:hidden"><div class="abs" style="left:25px;top:7px;width:1844px;height:400px;border:1px solid #e6e6e6;box-sizing:content-box"></div><div class="abs" style="left:26px;top:8px;width:1844px;height:50px;background:#f3f3f5"></div><div class="abs" style="left:26px;top:58px;width:1844px;height:2px;background:#e4e4e6"></div><span class="t" style="left:37.40px;top:19px;font:400 18.00px/20px 'Liberation Sans',sans-serif;font-kerning:none;letter-spacing:0.099px;color:#222;-webkit-text-stroke:0.500px #222;">Name</span>
<span class="t" style="left:595.80px;top:19px;font:400 18.00px/20px 'Liberation Sans',sans-serif;font-kerning:none;letter-spacing:0.133px;color:#222;-webkit-text-stroke:0.500px #222;">Traffic</span>
<span class="t" style="left:1153.20px;top:19px;font:400 18.00px/20px 'Liberation Sans',sans-serif;font-kerning:none;letter-spacing:-0.302px;color:#222;-webkit-text-stroke:0.500px #222;">% of Traffic</span>
<span class="t" style="left:1710.00px;top:19px;font:400 18.00px/20px 'Liberation Sans',sans-serif;font-kerning:none;letter-spacing:-0.360px;color:#222;-webkit-text-stroke:0.500px #222;">Show Graph</span>
<span class="t" style="left:37.90px;top:88px;font:400 15.50px/17px 'Liberation Sans',sans-serif;font-kerning:none;letter-spacing:1.556px;color:#333;">pftp</span>
<span class="t" style="left:596.10px;top:88px;font:400 15.50px/17px 'Liberation Sans',sans-serif;font-kerning:none;letter-spacing:0.438px;color:#333;">546.875 KiB</span>
<span class="t" style="left:1153.10px;top:88px;font:400 15.50px/17px 'Liberation Sans',sans-serif;font-kerning:none;letter-spacing:-0.513px;color:#333;">0 %</span>
<svg class="abs" style="left:1710px;top:83.00px" width="22" height="20"><rect x="1" y="7.500" width="3.800" height="11.500" fill="#f88a08"/><rect x="6.100" y="11.500" width="3.800" height="7.500" fill="#8aa51c"/><rect x="11.100" y="0" width="3.900" height="19" fill="#4fa61c"/><rect x="16.200" y="2.500" width="3.800" height="16.500" fill="#d98b10"/></svg><div class="abs" style="left:26px;top:117px;width:1844px;height:1px;background:#e6e6e6"></div><span class="t" style="left:38.40px;top:131px;font:400 15.50px/17px 'Liberation Sans',sans-serif;font-kerning:none;letter-spacing:0.306px;color:#333;">smux</span>
<span class="t" style="left:596.40px;top:131px;font:400 15.50px/17px 'Liberation Sans',sans-serif;font-kerning:none;letter-spacing:0.408px;color:#333;">468.750 KiB</span>
<span class="t" style="left:1153.10px;top:131px;font:400 15.50px/17px 'Liberation Sans',sans-serif;font-kerning:none;letter-spacing:-0.513px;color:#333;">0 %</span>
<svg class="abs" style="left:1710px;top:126.70px" width="22" height="20"><rect x="1" y="7.500" width="3.800" height="11.500" fill="#f88a08"/><rect x="6.100" y="11.500" width="3.800" height="7.500" fill="#8aa51c"/><rect x="11.100" y="0" width="3.900" height="19" fill="#4fa61c"/><rect x="16.200" y="2.500" width="3.800" height="16.500" fill="#d98b10"/></svg><div class="abs" style="left:26px;top:161px;width:1844px;height:1px;background:#e6e6e6"></div><span class="t" style="left:38.90px;top:175px;font:400 15.50px/17px 'Liberation Sans',sans-serif;font-kerning:none;letter-spacing:0.440px;color:#333;">wap-vcard</span>
<span class="t" style="left:596.40px;top:175px;font:400 15.50px/17px 'Liberation Sans',sans-serif;font-kerning:none;letter-spacing:0.408px;color:#333;">468.750 KiB</span>
<span class="t" style="left:1153.10px;top:175px;font:400 15.50px/17px 'Liberation Sans',sans-serif;font-kerning:none;letter-spacing:-0.513px;color:#333;">0 %</span>
<svg class="abs" style="left:1710px;top:170.40px" width="22" height="20"><rect x="1" y="7.500" width="3.800" height="11.500" fill="#f88a08"/><rect x="6.100" y="11.500" width="3.800" height="7.500" fill="#8aa51c"/><rect x="11.100" y="0" width="3.900" height="19" fill="#4fa61c"/><rect x="16.200" y="2.500" width="3.800" height="16.500" fill="#d98b10"/></svg><div class="abs" style="left:26px;top:204px;width:1844px;height:1px;background:#e6e6e6"></div><span class="t" style="left:38.40px;top:218px;font:400 15.50px/17px 'Liberation Sans',sans-serif;font-kerning:none;letter-spacing:0.229px;color:#333;">siam</span>
<span class="t" style="left:596.40px;top:218px;font:400 15.50px/17px 'Liberation Sans',sans-serif;font-kerning:none;letter-spacing:0.408px;color:#333;">468.750 KiB</span>
<span class="t" style="left:1153.10px;top:218px;font:400 15.50px/17px 'Liberation Sans',sans-serif;font-kerning:none;letter-spacing:-0.513px;color:#333;">0 %</span>
<svg class="abs" style="left:1710px;top:214.10px" width="22" height="20"><rect x="1" y="7.500" width="3.800" height="11.500" fill="#f88a08"/><rect x="6.100" y="11.500" width="3.800" height="7.500" fill="#8aa51c"/><rect x="11.100" y="0" width="3.900" height="19" fill="#4fa61c"/><rect x="16.200" y="2.500" width="3.800" height="16.500" fill="#d98b10"/></svg><div class="abs" style="left:26px;top:248px;width:1844px;height:1px;background:#e6e6e6"></div><span class="t" style="left:37.80px;top:262px;font:400 15.50px/17px 'Liberation Sans',sans-serif;font-kerning:none;letter-spacing:0.378px;color:#333;">ms-iis</span>
<span class="t" style="left:596.40px;top:262px;font:400 15.50px/17px 'Liberation Sans',sans-serif;font-kerning:none;letter-spacing:0.408px;color:#333;">468.750 KiB</span>
<span class="t" style="left:1153.10px;top:262px;font:400 15.50px/17px 'Liberation Sans',sans-serif;font-kerning:none;letter-spacing:-0.513px;color:#333;">0 %</span>
<svg class="abs" style="left:1710px;top:257.80px" width="22" height="20"><rect x="1" y="7.500" width="3.800" height="11.500" fill="#f88a08"/><rect x="6.100" y="11.500" width="3.800" height="7.500" fill="#8aa51c"/><rect x="11.100" y="0" width="3.900" height="19" fill="#4fa61c"/><rect x="16.200" y="2.500" width="3.800" height="16.500" fill="#d98b10"/></svg><div class="abs" style="left:26px;top:292px;width:1844px;height:1px;background:#e6e6e6"></div><span class="t" style="left:37.80px;top:306px;font:400 15.50px/17px 'Liberation Sans',sans-serif;font-kerning:none;letter-spacing:0.580px;color:#333;">ncube-lm</span>
<span class="t" style="left:596.40px;top:306px;font:400 15.50px/17px 'Liberation Sans',sans-serif;font-kerning:none;letter-spacing:0.408px;color:#333;">468.750 KiB</span>
<span class="t" style="left:1153.10px;top:306px;font:400 15.50px/17px 'Liberation Sans',sans-serif;font-kerning:none;letter-spacing:-0.513px;color:#333;">0 %</span>
<svg class="abs" style="left:1710px;top:301.50px" width="22" height="20"><rect x="1" y="7.500" width="3.800" height="11.500" fill="#f88a08"/><rect x="6.100" y="11.500" width="3.800" height="7.500" fill="#8aa51c"/><rect x="11.100" y="0" width="3.900" height="19" fill="#4fa61c"/><rect x="16.200" y="2.500" width="3.800" height="16.500" fill="#d98b10"/></svg><div class="abs" style="left:26px;top:335px;width:1844px;height:1px;background:#e6e6e6"></div><span class="t" style="left:66.00px;top:349px;font:400 15.50px/17px 'Liberation Sans',sans-serif;font-kerning:none;letter-spacing:0.000px;color:#333;">0</span>
<span class="t" style="left:596.20px;top:349px;font:400 15.50px/17px 'Liberation Sans',sans-serif;font-kerning:none;letter-spacing:0.428px;color:#333;">390.625 KiB</span>
<span class="t" style="left:1153.10px;top:349px;font:400 15.50px/17px 'Liberation Sans',sans-serif;font-kerning:none;letter-spacing:-0.513px;color:#333;">0 %</span>
<svg class="abs" style="left:1710px;top:345.20px" width="22" height="20"><rect x="1" y="7.500" width="3.800" height="11.500" fill="#f88a08"/><rect x="6.100" y="11.500" width="3.800" height="7.500" fill="#8aa51c"/><rect x="11.100" y="0" width="3.900" height="19" fill="#4fa61c"/><rect x="16.200" y="2.500" width="3.800" height="16.500" fill="#d98b10"/></svg><div class="abs" style="left:26px;top:379px;width:1844px;height:1px;background:#e6e6e6"></div></div>
</body></html>
